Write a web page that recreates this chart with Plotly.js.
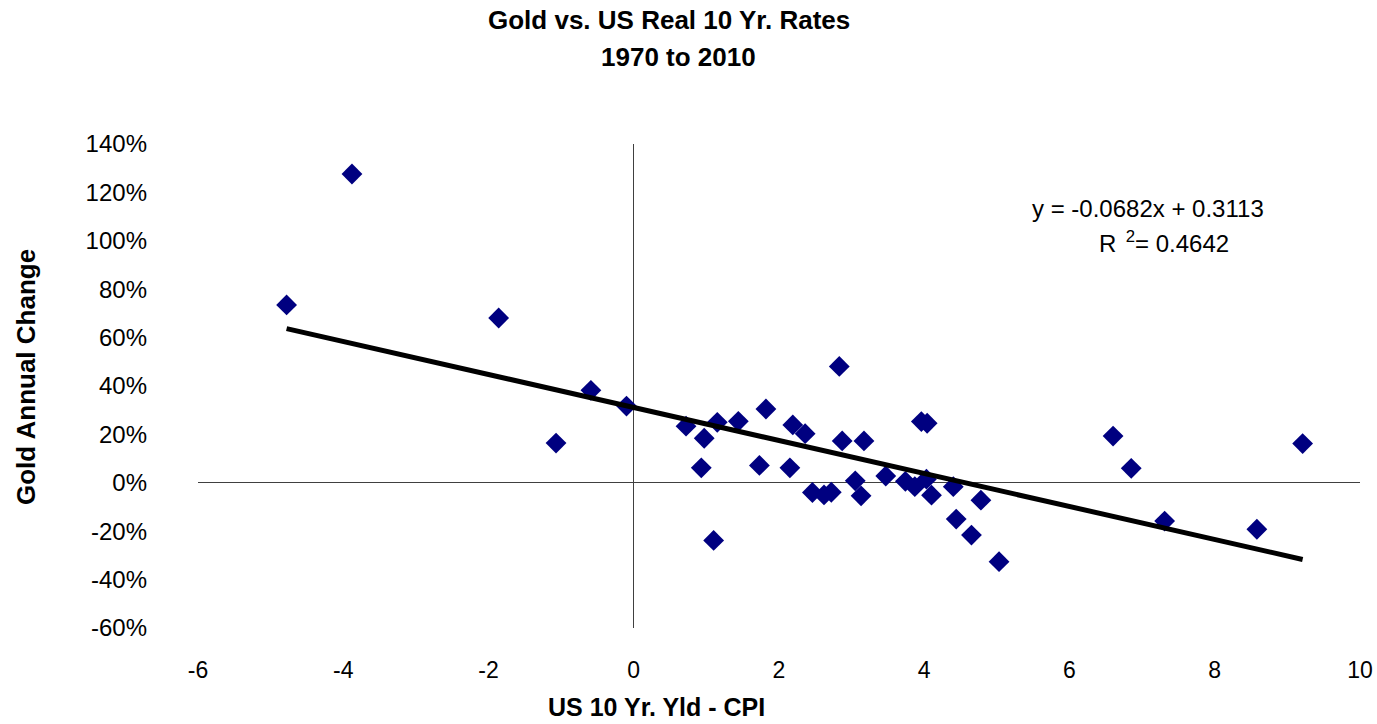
<!DOCTYPE html>
<html>
<head>
<meta charset="utf-8">
<script src="https://cdn.plot.ly/plotly-3.0.1.min.js"></script>
<style>
html,body{margin:0;padding:0;background:#fff;}
#chart{width:1377px;height:724px;}
</style>
</head>
<body>
<div id="chart"></div>
<script>
// US 10 Yr. Yield minus CPI (percentage points)
const realRate = [-4.78,-3.88,-1.86,-1.07,-0.59,-0.10,0.72,0.97,0.93,1.15,1.10,1.44,1.82,1.73,2.19,2.36,2.15,2.46,2.62,2.72,2.83,2.87,3.17,3.05,3.13,3.47,3.74,3.87,3.96,4.04,4.03,4.10,4.40,4.44,4.65,4.78,5.03,6.60,6.85,7.31,8.58,9.21];
// Gold annual change (fraction)
const goldChange = [0.735,1.276,0.681,0.164,0.382,0.317,0.234,0.184,0.062,0.250,-0.238,0.254,0.305,0.072,0.239,0.203,0.062,-0.040,-0.050,-0.039,0.481,0.173,0.173,0.008,-0.054,0.028,0.006,-0.016,0.253,0.246,0.015,-0.051,-0.016,-0.150,-0.216,-0.072,-0.326,0.193,0.060,-0.158,-0.192,0.162];
// Trendline coefficients (as reported on chart)
const slope = -0.0682;
const intercept = 0.3113;
const rSquared = 0.4642;
const xTicks = [-6,-4,-2,0,2,4,6,8,10];
const yTicks = [-0.6,-0.4,-0.2,0,0.2,0.4,0.6,0.8,1.0,1.2,1.4];
const yTickLabels = ['-60%','-40%','-20%','0%','20%','40%','60%','80%','100%','120%','140%'];

const xMin = Math.min(...realRate), xMax = Math.max(...realRate);
const trendX = [xMin, xMax];
const trendY = trendX.map(v => slope * v + intercept);

const FONT = 'Liberation Sans, Arial, sans-serif';

const data = [
  {
    type: 'scatter', mode: 'markers',
    x: realRate, y: goldChange,
    marker: {symbol: 'diamond', size: 16, color: '#000080', line: {width: 0}},
    hoverinfo: 'x+y', showlegend: false
  },
  {
    type: 'scatter', mode: 'lines',
    x: trendX, y: trendY,
    line: {color: '#000000', width: 5},
    hoverinfo: 'skip', showlegend: false
  }
];

const layout = {
  width: 1377, height: 724,
  margin: {l: 198, r: 17, t: 144, b: 96, pad: 0},
  paper_bgcolor: '#ffffff', plot_bgcolor: '#ffffff',
  font: {family: FONT, color: '#000000'},
  showlegend: false,
  xaxis: {
    range: [-6, 10], tickvals: xTicks, ticktext: xTicks.map(String),
    showgrid: false, showline: false, ticks: '',
    zeroline: true, zerolinecolor: '#404040', zerolinewidth: 1,
    tickfont: {family: FONT, size: 23, color: '#000'},
    ticklabelstandoff: 26, fixedrange: true
  },
  yaxis: {
    range: [-0.6, 1.4], tickvals: yTicks, ticktext: yTickLabels,
    showgrid: false, showline: false, ticks: '',
    zeroline: true, zerolinecolor: '#404040', zerolinewidth: 1,
    tickfont: {family: FONT, size: 24, color: '#000'},
    ticklabelstandoff: 50, fixedrange: true
  },
  annotations: [
    {text: '<b>Gold vs. US Real 10 Yr. Rates</b>', xref: 'paper', yref: 'paper',
     x: (669 - 198) / 1162, y: 1 + (144 - 20) / 484, xanchor: 'center', yanchor: 'middle',
     showarrow: false, font: {family: FONT, size: 26, color: '#000'}},
    {text: '<b>1970 to 2010</b>', xref: 'paper', yref: 'paper',
     x: (678 - 198) / 1162, y: 1 + (144 - 57) / 484, xanchor: 'center', yanchor: 'middle',
     showarrow: false, font: {family: FONT, size: 26, color: '#000'}},
    {text: '<b>US 10 Yr. Yld - CPI</b>', xref: 'paper', yref: 'paper',
     x: (656 - 198) / 1162, y: -(707 - 628) / 484, xanchor: 'center', yanchor: 'middle',
     showarrow: false, font: {family: FONT, size: 25, color: '#000'}},
    {text: '<b>Gold Annual Change</b>', xref: 'paper', yref: 'paper',
     x: -(198 - 26) / 1162, y: (628 - 377) / 484, xanchor: 'center', yanchor: 'middle',
     textangle: -90, showarrow: false, font: {family: FONT, size: 26, color: '#000'}},
    {text: 'y = ' + slope.toFixed(4) + 'x + ' + intercept.toFixed(4), xref: 'paper', yref: 'paper',
     x: (1148 - 198) / 1162, y: (628 - 208) / 484, xanchor: 'center', yanchor: 'middle',
     showarrow: false, font: {family: FONT, size: 24, color: '#000'}},
    {text: 'R<sup>  2</sup>= ' + rSquared.toFixed(4), xref: 'paper', yref: 'paper',
     x: (1164 - 198) / 1162, y: (628 - 242) / 484, xanchor: 'center', yanchor: 'middle',
     showarrow: false, font: {family: FONT, size: 24, color: '#000'}}
  ]
};

Plotly.newPlot('chart', data, layout, {displayModeBar: false, staticPlot: true});
</script>
</body>
</html>
